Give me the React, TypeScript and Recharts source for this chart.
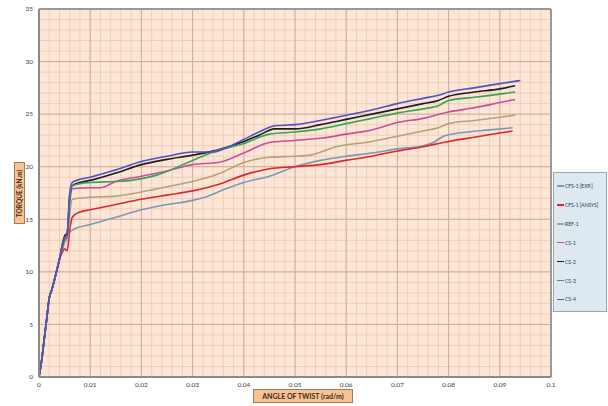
import React from "react";
import {
  LineChart,
  Line,
  XAxis,
  YAxis,
  CartesianGrid,
  ReferenceLine,
} from "recharts";

type Pt = { x: number; y: number };

const xTicks = [0, 0.01, 0.02, 0.03, 0.04, 0.05, 0.06, 0.07, 0.08, 0.09, 0.1];
const xTickLabels = ["0", "0.01", "0.02", "0.03", "0.04", "0.05", "0.06", "0.07", "0.08", "0.09", "0.1"];
const yTicks = [0, 5, 10, 15, 20, 25, 30, 35];

const initialRise: [number, number][] = [
  [0, 0],
  [0.0005, 1.5],
  [0.001, 3.5],
  [0.0015, 5.5],
  [0.002, 7.5],
  [0.0025, 8.3],
  [0.003, 9.2],
  [0.0035, 10.2],
  [0.004, 11.2],
];

const cfsExp: [number, number][] = [
  [0.0045, 12.0], [0.005, 12.8], [0.0055, 13.3], [0.006, 13.8], [0.007, 14.1],
  [0.01, 14.5], [0.015, 15.2], [0.02, 15.9], [0.025, 16.4], [0.03, 16.8],
  [0.033, 17.2], [0.036, 17.8], [0.04, 18.5], [0.045, 19.1], [0.05, 20.0],
  [0.055, 20.6], [0.06, 21.0], [0.065, 21.3], [0.07, 21.7], [0.075, 22.0],
  [0.077, 22.3], [0.079, 22.9], [0.082, 23.2], [0.088, 23.5], [0.0925, 23.7],
];

const cfsAnsys: [number, number][] = [
  [0.0045, 11.8], [0.005, 12.2], [0.0055, 12.0], [0.006, 14.0], [0.0065, 15.2],
  [0.008, 15.7], [0.01, 15.9], [0.015, 16.4], [0.02, 16.9], [0.025, 17.3],
  [0.03, 17.7], [0.035, 18.3], [0.04, 19.2], [0.045, 19.8], [0.05, 20.0],
  [0.055, 20.2], [0.06, 20.6], [0.065, 21.0], [0.07, 21.5], [0.075, 21.9],
  [0.08, 22.4], [0.085, 22.8], [0.09, 23.2], [0.0925, 23.4],
];

const ref1: [number, number][] = [
  [0.0045, 12.2], [0.005, 12.9], [0.0055, 13.0], [0.006, 15.5], [0.0065, 16.9],
  [0.01, 17.1], [0.015, 17.2], [0.02, 17.6], [0.025, 18.1], [0.03, 18.6],
  [0.035, 19.3], [0.04, 20.4], [0.045, 20.9], [0.05, 21.0], [0.053, 21.1],
  [0.058, 21.9], [0.065, 22.4], [0.07, 22.9], [0.075, 23.4], [0.078, 23.7],
  [0.08, 24.1], [0.085, 24.4], [0.09, 24.7], [0.093, 24.9],
];

const cs1: [number, number][] = [
  [0.0045, 12.3], [0.005, 13.1], [0.0055, 13.3], [0.006, 16.5], [0.0065, 17.9],
  [0.01, 18.0], [0.012, 18.0], [0.015, 18.6], [0.02, 19.1], [0.025, 19.6],
  [0.03, 20.2], [0.035, 20.4], [0.04, 21.3], [0.045, 22.3], [0.05, 22.5],
  [0.055, 22.7], [0.06, 23.1], [0.065, 23.5], [0.07, 24.2], [0.075, 24.6],
  [0.08, 25.2], [0.085, 25.6], [0.09, 26.1], [0.093, 26.4],
];

const cs2: [number, number][] = [
  [0.0045, 12.5], [0.005, 13.4], [0.0055, 13.7], [0.006, 17.2], [0.0065, 18.2],
  [0.008, 18.5], [0.01, 18.7], [0.015, 19.4], [0.02, 20.2], [0.025, 20.7],
  [0.03, 21.1], [0.035, 21.6], [0.04, 22.4], [0.043, 23.0], [0.046, 23.6],
  [0.05, 23.6], [0.055, 24.0], [0.06, 24.5], [0.065, 25.0], [0.07, 25.5],
  [0.075, 26.0], [0.078, 26.3], [0.08, 26.7], [0.085, 27.1], [0.09, 27.4],
  [0.093, 27.7],
];

const cs3: [number, number][] = [
  [0.0045, 12.4], [0.005, 13.2], [0.0055, 13.5], [0.006, 17.0], [0.0065, 18.2],
  [0.01, 18.5], [0.015, 18.6], [0.018, 18.7], [0.023, 19.2], [0.03, 20.6],
  [0.034, 21.4], [0.04, 22.2], [0.045, 23.1], [0.05, 23.3], [0.055, 23.6],
  [0.06, 24.1], [0.065, 24.6], [0.07, 25.1], [0.075, 25.5], [0.078, 25.8],
  [0.08, 26.3], [0.085, 26.6], [0.09, 26.9], [0.093, 27.1],
];

const cs4: [number, number][] = [
  [0.0045, 12.3], [0.005, 13.2], [0.0055, 13.6], [0.006, 17.5], [0.0065, 18.5],
  [0.008, 18.8], [0.01, 19.0], [0.015, 19.7], [0.02, 20.5], [0.025, 21.0],
  [0.03, 21.4], [0.034, 21.4], [0.037, 21.9], [0.04, 22.6], [0.043, 23.3],
  [0.046, 23.9], [0.05, 24.0], [0.055, 24.4], [0.06, 24.9], [0.065, 25.4],
  [0.07, 26.0], [0.075, 26.5], [0.078, 26.8], [0.08, 27.1], [0.085, 27.5],
  [0.09, 27.9], [0.094, 28.2],
];

const seriesNames = ["CFS-1 [EXP.]", "CFS-1 [ANSYS]", "REF-1", "CS-1", "CS-2", "CS-3", "CS-4"];
const seriesColors = ["#7d97b8", "#e0262c", "#aea57a", "#c94f9e", "#1e1e1e", "#36a458", "#5252c4"];
const seriesValues = [cfsExp, cfsAnsys, ref1, cs1, cs2, cs3, cs4];

const toPts = (tail: [number, number][]): Pt[] =>
  [...initialRise, ...tail].map(([x, y]) => ({ x, y }));

const minorX = Array.from({ length: 51 }, (_, i) => +(i * 0.002).toFixed(4));
const minorY = Array.from({ length: 36 }, (_, i) => i);

const FONT = "Lato, 'Open Sans', sans-serif";

const genX = (props: any) => {
  const ax = props && props.xAxis;
  if (ax && typeof ax.scale === "function") return minorX.map((v) => ax.scale(v));
  const off = props.offset;
  return minorX.map((v) => off.left + (v / 0.1) * off.width);
};
const genY = (props: any) => {
  const ax = props && props.yAxis;
  if (ax && typeof ax.scale === "function") return minorY.map((v) => ax.scale(v));
  const off = props.offset;
  return minorY.map((v) => off.top + (1 - v / 35) * off.height);
};

export default function App() {
  return (
    <div
      style={{
        position: "absolute",
        left: 0,
        top: 0,
        width: 608,
        height: 406,
        background: "#ffffff",
        fontFamily: FONT,
      }}
    >
      <LineChart
        width={608}
        height={406}
        margin={{ top: 9, right: 57, bottom: 9, left: 9 }}
      >
        <CartesianGrid
          stroke="#e9c9b4"
          strokeWidth={0.8}
          fill="#fde6d5"
          fillOpacity={1}
          verticalCoordinatesGenerator={genX}
          horizontalCoordinatesGenerator={genY}
        />
        <CartesianGrid stroke="#cdae9a" strokeWidth={1} />
        <XAxis
          type="number"
          dataKey="x"
          domain={[0, 0.1]}
          ticks={xTicks}
          tickFormatter={(v: number) => xTickLabels[xTicks.indexOf(v)] ?? String(v)}
          allowDataOverflow
          height={20}
          tickLine={false}
          tickSize={3}
          tickMargin={2}
          axisLine={{ stroke: "#8a8a8a", strokeWidth: 2 }}
          tick={{ fontSize: 6.5, fill: "#404040", fontFamily: FONT }}
        />
        <YAxis
          type="number"
          domain={[0, 35]}
          ticks={yTicks}
          allowDataOverflow
          width={30}
          tickLine={false}
          tickSize={4}
          tickMargin={2}
          axisLine={{ stroke: "#8a8a8a", strokeWidth: 2 }}
          tick={{ fontSize: 6.5, fill: "#404040", fontFamily: FONT }}
        />
        <ReferenceLine x={0.1} stroke="#9a9a9a" strokeWidth={2} ifOverflow="extendDomain" />
        <ReferenceLine y={35} stroke="#9a9a9a" strokeWidth={2} ifOverflow="extendDomain" />
        {seriesValues.map((vals, i) => (
          <Line
            key={seriesNames[i]}
            data={toPts(vals)}
            dataKey="y"
            name={seriesNames[i]}
            type="monotone"
            stroke={seriesColors[i]}
            strokeWidth={1.6}
            dot={false}
            activeDot={false}
            isAnimationActive={false}
          />
        ))}
      </LineChart>

      {/* Y axis title */}
      <div
        style={{
          position: "absolute",
          left: 14,
          top: 162,
          width: 11,
          height: 62,
          background: "#f8c394",
          border: "1px solid #a77a55",
          boxSizing: "border-box",
          display: "flex",
          alignItems: "center",
          justifyContent: "center",
        }}
      >
        <div
          style={{
            transform: "rotate(-90deg)",
            whiteSpace: "nowrap",
            fontSize: 6.5,
            fontWeight: 700,
            color: "#3a2a20",
          }}
        >
          TORQUE (kN.m)
        </div>
      </div>

      {/* X axis title */}
      <div
        style={{
          position: "absolute",
          left: 253,
          top: 389,
          width: 100,
          height: 14,
          background: "#f8c394",
          border: "1px solid #a77a55",
          boxSizing: "border-box",
          fontSize: 7,
          fontWeight: 700,
          color: "#3a2a20",
          display: "flex",
          alignItems: "center",
          justifyContent: "center",
          whiteSpace: "nowrap",
        }}
      >
        ANGLE OF TWIST (rad/m)
      </div>

      {/* Legend */}
      <div
        style={{
          position: "absolute",
          left: 553,
          top: 172,
          width: 54,
          height: 140,
          background: "#dde8f1",
          border: "1px solid #9aa6b0",
          boxSizing: "border-box",
        }}
      >
        {seriesNames.map((n, i) => (
          <div
            key={n}
            style={{
              position: "absolute",
              left: 3,
              top: 9 + i * 18.9,
              height: 8,
              display: "flex",
              alignItems: "center",
              whiteSpace: "nowrap",
              fontSize: 5,
              color: "#2a3a4a",
            }}
          >
            <span
              style={{
                display: "inline-block",
                width: 7,
                height: 1.5,
                background: seriesColors[i],
                marginRight: 1,
              }}
            />
            {n}
          </div>
        ))}
      </div>
    </div>
  );
}
